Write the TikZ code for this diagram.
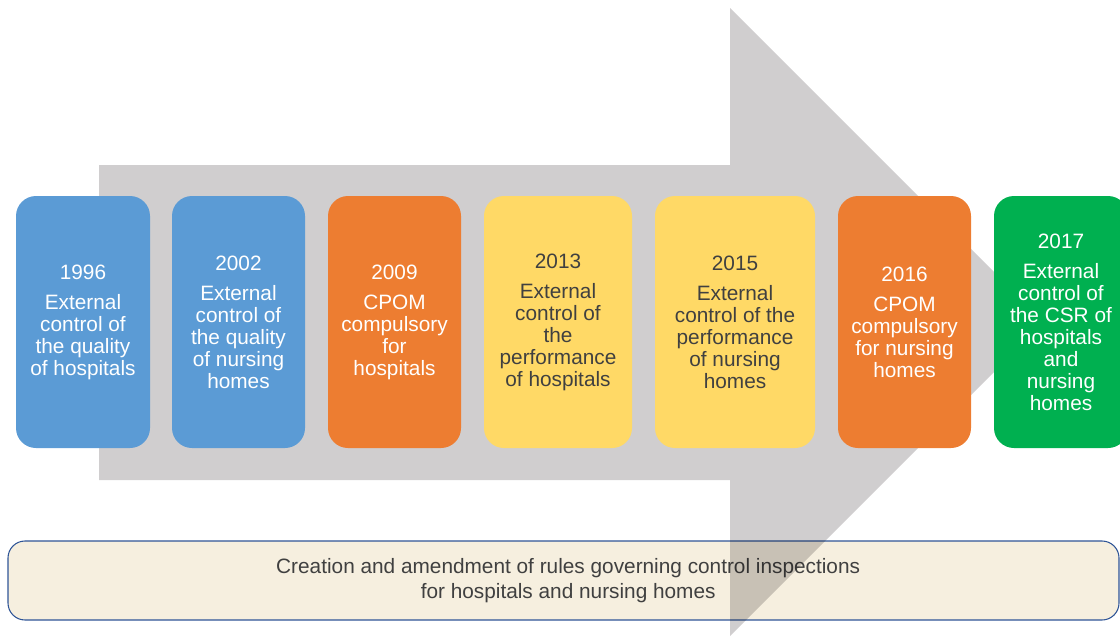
\documentclass[tikz,border=0pt]{standalone}
\usepackage{fontspec}
\setmainfont{Liberation Sans}
\definecolor{arrowgray}{HTML}{D0CECF}
\definecolor{stepblue}{HTML}{5B9BD5}
\definecolor{steporange}{HTML}{ED7D31}
\definecolor{stepyellow}{HTML}{FFD966}
\definecolor{stepgreen}{HTML}{00B050}
\definecolor{rulefill}{HTML}{F6EFDF}
\definecolor{ruleline}{HTML}{2F5597}
\definecolor{darktext}{HTML}{404040}
\tikzset{
  stage/.style={rectangle, rounded corners=15pt, inner sep=0pt,
    minimum height=189pt, align=center, text=white,
    font=\fontsize{15.6}{16.5}\selectfont},
  rulebox/.style={rectangle, rounded corners=12.75pt, draw=ruleline,
    line width=0.8pt, fill=rulefill, inner sep=0pt, align=center,
    minimum width=833.25pt, minimum height=59.25pt, text=darktext,
    font=\fontsize{15.6}{19}\selectfont}
}
\begin{document}
\begin{tikzpicture}[x=0.75pt,y=-0.75pt]
      \useasboundingbox (0,0) rectangle (1120,636);
      \node[rulebox] (rules) at (563.5,580.5)
        {\hspace*{7pt}Creation and amendment of rules governing control inspections\\
         \hspace*{7pt}for hospitals and nursing homes};
      \begin{scope}[blend mode=multiply]
        \fill[arrowgray] (99,165) -- (730,165) -- (730,8) -- (1044,322)
          -- (730,636) -- (730,480) -- (99,480) -- cycle;
      \end{scope}
      \node[stage, fill=stepblue, minimum width=100.5pt] (y1996) at (83,322)
        {1996\\[6pt]External\\control of\\the quality\\of hospitals};
      \node[stage, fill=stepblue, minimum width=99.75pt] (y2002) at (238.5,322)
        {2002\\[6pt]External\\control of\\the quality\\of nursing\\homes};
      \node[stage, fill=steporange, minimum width=99.75pt] (y2009) at (394.5,322)
        {2009\\[6pt]CPOM\\compulsory\\for\\hospitals};
      \node[stage, fill=stepyellow, text=darktext, minimum width=111pt] (y2013) at (558,322)
        {2013\\[6pt]External\\control of\\the\\performance\\of hospitals};
      \node[stage, fill=stepyellow, text=darktext, minimum width=120pt] (y2015) at (735,322)
        {2015\\[6pt]External\\control of the\\performance\\of nursing\\homes};
      \node[stage, fill=steporange, minimum width=99.75pt] (y2016) at (904.5,322)
        {2016\\[6pt]CPOM\\compulsory\\for nursing\\homes};
      \node[stage, fill=stepgreen, minimum width=100.5pt] (y2017) at (1061,322)
        {2017\\[6pt]External\\control of\\the CSR of\\hospitals\\and\\nursing\\homes};
    \end{tikzpicture}
\end{document}
